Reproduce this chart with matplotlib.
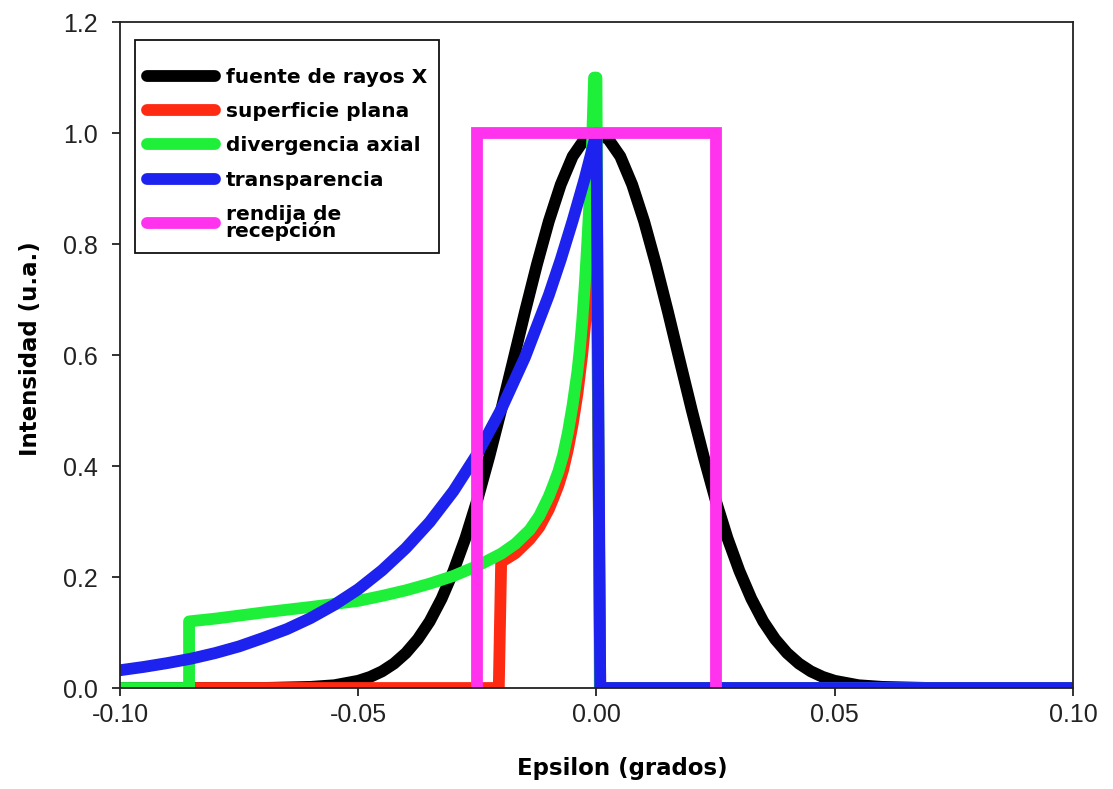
import matplotlib
matplotlib.use("Agg")
import matplotlib.pyplot as plt

# --- data ---
labels = ["fuente de rayos X", "superficie plana", "divergencia axial",
          "transparencia", "rendija de\nrecepción"]

# fuente de rayos X (gaussian-looking source profile)
src_x = [-0.100, -0.070, -0.060, -0.055, -0.050, -0.0475, -0.045, -0.0425, -0.040,
         -0.0375, -0.035, -0.0325, -0.030, -0.0275, -0.025, -0.0225, -0.020, -0.0175,
         -0.015, -0.0125, -0.010, -0.0075, -0.005, -0.0025, 0.0, 0.0025, 0.005, 0.0075,
         0.010, 0.0125, 0.015, 0.0175, 0.020, 0.0225, 0.025, 0.0275, 0.030, 0.0325,
         0.035, 0.0375, 0.040, 0.0425, 0.045, 0.0475, 0.050, 0.055, 0.060, 0.070, 0.100]
src_y = [0.0, 0.0, 0.002, 0.005, 0.013, 0.020, 0.030, 0.044, 0.063,
         0.088, 0.120, 0.161, 0.211, 0.270, 0.339, 0.417, 0.501, 0.589,
         0.678, 0.763, 0.841, 0.907, 0.958, 0.989, 1.0, 0.989, 0.958, 0.907,
         0.841, 0.763, 0.678, 0.589, 0.501, 0.417, 0.339, 0.270, 0.211, 0.161,
         0.120, 0.088, 0.063, 0.044, 0.030, 0.020, 0.013, 0.005, 0.002, 0.0, 0.0]

# superficie plana
flat_x = [-0.085, -0.0205, -0.0200, -0.017, -0.014, -0.012, -0.010, -0.009, -0.008,
          -0.007, -0.006, -0.005, -0.004, -0.003, -0.002, -0.001, 0.0, 0.0008, 0.100]
flat_y = [0.0, 0.0, 0.227, 0.243, 0.268, 0.290, 0.322, 0.343, 0.365,
          0.393, 0.430, 0.475, 0.530, 0.600, 0.690, 0.780, 0.850, 0.0, 0.0]

# divergencia axial
axial_x = [-0.100, -0.0855, -0.0855, -0.080, -0.070, -0.060, -0.050, -0.045, -0.040,
           -0.035, -0.030, -0.025, -0.020, -0.017, -0.014, -0.012, -0.010, -0.009,
           -0.008, -0.007, -0.006, -0.005, -0.004, -0.0035, -0.003, -0.0025, -0.002,
           -0.0015, -0.001, -0.0005, 0.0, 0.0007, 0.100]
axial_y = [0.0, 0.0, 0.120, 0.125, 0.136, 0.146, 0.157, 0.166, 0.176,
           0.188, 0.202, 0.220, 0.242, 0.260, 0.285, 0.310, 0.345, 0.367,
           0.390, 0.420, 0.460, 0.510, 0.570, 0.610, 0.660, 0.720, 0.790,
           0.870, 0.960, 1.100, 1.100, 0.0, 0.0]

# transparencia
transp_x = [-0.100, -0.095, -0.090, -0.085, -0.080, -0.075, -0.070, -0.065, -0.060,
            -0.055, -0.050, -0.045, -0.040, -0.035, -0.030, -0.025, -0.020, -0.015,
            -0.010, -0.0075, -0.005, -0.0025, 0.0, 0.0008, 0.100]
transp_y = [0.032, 0.038, 0.045, 0.053, 0.063, 0.075, 0.090, 0.106, 0.126,
            0.150, 0.178, 0.212, 0.252, 0.299, 0.355, 0.422, 0.502, 0.596,
            0.708, 0.772, 0.842, 0.917, 1.0, 0.0, 0.0]

# rendija de recepción
slit_x = [-0.025, -0.025, 0.025, 0.025]
slit_y = [0.0, 1.0, 1.0, 0.0]

series = [(src_x, src_y, "#000000"), (flat_x, flat_y, "#ff2a12"),
          (axial_x, axial_y, "#1ef03a"), (transp_x, transp_y, "#1e22ee"),
          (slit_x, slit_y, "#ff33ee")]

x_ticks = [-0.10, -0.05, 0.00, 0.05, 0.10]
y_ticks = [0.0, 0.2, 0.4, 0.6, 0.8, 1.0, 1.2]

fig = plt.figure(figsize=(11.13, 7.89), dpi=100)
ax = fig.add_axes([0.1078, 0.128, 0.8562, 0.844])

for (xs, ys, col), lab in zip(series, labels):
    ax.plot(xs, ys, color=col, lw=8.5, label=lab, solid_capstyle="round",
            solid_joinstyle="miter" if col == "#ff33ee" else "round")

ax.set_xlim(-0.10, 0.10)
ax.set_ylim(0.0, 1.2)
ax.set_xticks(x_ticks)
ax.set_xticklabels([f"{v:.2f}" for v in x_ticks])
ax.set_yticks(y_ticks)
ax.set_yticklabels([f"{v:.1f}" for v in y_ticks])
ax.tick_params(direction="out", length=6, width=1.3, labelsize=18, colors="#222222")
ax.tick_params(axis="x", pad=5)
ax.tick_params(axis="y", pad=10)
for lbl in ax.get_xticklabels() + ax.get_yticklabels():
    lbl.set_family("Liberation Sans")
for sp in ax.spines.values():
    sp.set_linewidth(1.3)
    sp.set_color("#222222")

ax.set_xlabel("Epsilon (grados)", fontsize=16.5, fontweight="bold", family="DejaVu Sans")
ax.set_ylabel("Intensidad (u.a.)", fontsize=16.5, fontweight="bold", family="DejaVu Sans")
ax.xaxis.set_label_coords(0.527, -0.104)
ax.yaxis.set_label_coords(-0.082, 0.509)

leg = ax.legend(loc="upper left", bbox_to_anchor=(0.0157, 0.973), borderaxespad=0, frameon=True,
                fancybox=False, edgecolor="#111111", framealpha=1, handlelength=3.4,
                handletextpad=0.5, labelspacing=0.75, borderpad=0.6,
                title=" ", title_fontsize=1,
                prop={"family": "DejaVu Sans", "weight": "bold", "size": 14.5})
leg.get_frame().set_linewidth(1.3)
for h in leg.get_lines():
    h.set_linewidth(8.5)
leg.get_texts()[-1].set_linespacing(0.85)

fig.savefig("out.png", dpi=100)
